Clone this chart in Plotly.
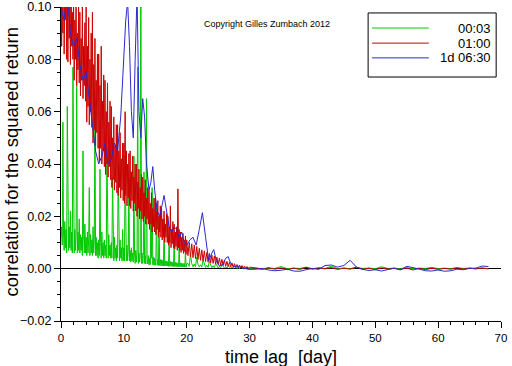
import plotly.graph_objects as go

# ---------------- data ----------------
# lag grid: 0.1-day sampling up to 20 days, 0.2-day sampling 20..30 days, daily afterwards
dense_lag = [round(0.1 * i, 1) for i in range(201)] + [round(20.2 + 0.2 * j, 1) for j in range(50)]
tail_lag = list(range(31, 69))

series_names = ["00:03", "01:00", "1d 06:30"]

green_dense = [
    # 0.0 - 0.9
    0.012, 0.016, 0.009, 0.056, 0.014, 0.007, 0.018, 0.008, 0.015, 0.006,
    0.062, 0.013, 0.007, 0.016, 0.008, 0.022, 0.007, 0.014, 0.006, 0.077,
    0.012, 0.006, 0.015, 0.007, 0.013, 0.070, 0.006, 0.014, 0.007, 0.019,
    0.006, 0.013, 0.007, 0.012, 0.005, 0.045, 0.013, 0.006, 0.017, 0.006,
    0.012, 0.005, 0.014, 0.006, 0.011, 0.031, 0.005, 0.013, 0.006, 0.011,
    0.005, 0.016, 0.006, 0.011, 0.065, 0.005, 0.012, 0.005, 0.010, 0.004,
    0.011, 0.005, 0.038, 0.010, 0.004, 0.014, 0.005, 0.010, 0.004, 0.011,
    0.005, 0.009, 0.004, 0.046, 0.010, 0.004, 0.013, 0.005, 0.009, 0.004,
    0.010, 0.004, 0.035, 0.009, 0.003, 0.012, 0.004, 0.008, 0.003, 0.009,
    0.004, 0.040, 0.008, 0.003, 0.011, 0.004, 0.008, 0.003, 0.015, 0.003,
    # 10.0 - 10.9
    0.008, 0.003, 0.043, 0.007, 0.003, 0.009, 0.003, 0.007, 0.034, 0.003,
    0.007, 0.0025, 0.008, 0.003, 0.006, 0.0025, 0.043, 0.006, 0.002, 0.007,
    0.0025, 0.006, 0.077, 0.002, 0.006, 0.0025, 0.005, 0.140, 0.002, 0.006,
    0.002, 0.005, 0.037, 0.002, 0.005, 0.0018, 0.065, 0.004, 0.0018, 0.005,
    0.0015, 0.004, 0.0015, 0.0214, 0.004, 0.031, 0.0015, 0.0045, 0.0013, 0.004,
    0.0013, 0.0038, 0.025, 0.0013, 0.0035, 0.0012, 0.020, 0.0012, 0.0035, 0.0011,
    0.0034, 0.0011, 0.0032, 0.001, 0.019, 0.001, 0.003, 0.001, 0.0028, 0.001,
    0.0028, 0.0009, 0.013, 0.0009, 0.0027, 0.0009, 0.0026, 0.0009, 0.0025, 0.0008,
    0.0115, 0.0008, 0.0024, 0.0008, 0.0023, 0.0008, 0.0022, 0.0008, 0.009, 0.0007,
    0.0022, 0.0007, 0.0021, 0.0007, 0.002, 0.0007, 0.002, 0.0006, 0.007, 0.0006,
    # 20.0
    0.0019,
    # 20.2 - 21.8 (0.2 step)
    0.002, 0.0009, 0.0055, 0.0019, 0.0008, 0.0018, 0.0007, 0.0045, 0.0016,
    # 22.0 - 30.0
    0.0007, 0.0015, 0.0006, 0.0035, 0.0014, 0.0005, 0.0013, 0.0005, 0.0028, 0.0012,
    0.0004, 0.0011, 0.0004, 0.002, 0.001, 0.0003, 0.0009, 0.0003, 0.0016, 0.0008,
    0.0002, 0.0008, 0.0002, 0.0012, 0.0007, 0.0001, 0.0006, 0.0001, 0.001, 0.0005,
    0.0001, 0.0005, 0.0, 0.0008, 0.0004, 0.0, 0.0004, 0.0, 0.0006, 0.0003,
    0.0,
]
green_tail = [
    0.0003, 0.0, 0.0002, 0.0001, 0.0008, 0.0, 0.0002, 0.0001, 0.0006, 0.0,
    0.0003, 0.0001, 0.0009, 0.0, 0.0002, 0.0, 0.0005, 0.0001, 0.0002, 0.0,
    0.0007, 0.0001, 0.0002, 0.0, 0.0004, 0.0, 0.0002, 0.0001, 0.0005, 0.0,
    0.0002, 0.0, 0.0004, 0.0001, 0.0002, 0.0, 0.0003, 0.0,
]

red_dense = [
    # 0.0 - 0.9
    0.125, 0.085, 0.112, 0.090, 0.130, 0.082, 0.105, 0.095, 0.118, 0.080,
    0.110, 0.079, 0.120, 0.088, 0.100, 0.078, 0.115, 0.085, 0.098, 0.080,
    0.105, 0.072, 0.095, 0.080, 0.102, 0.070, 0.090, 0.076, 0.100, 0.071,
    0.098, 0.066, 0.088, 0.072, 0.100, 0.065, 0.085, 0.070, 0.094, 0.064,
    0.100, 0.056, 0.085, 0.062, 0.096, 0.055, 0.080, 0.060, 0.090, 0.054,
    0.098, 0.048, 0.078, 0.053, 0.088, 0.047, 0.072, 0.052, 0.082, 0.046,
    0.082, 0.041, 0.070, 0.046, 0.085, 0.040, 0.064, 0.045, 0.074, 0.039,
    0.072, 0.036, 0.060, 0.040, 0.071, 0.035, 0.056, 0.039, 0.064, 0.034,
    0.062, 0.031, 0.050, 0.034, 0.058, 0.030, 0.047, 0.033, 0.055, 0.029,
    0.055, 0.028, 0.045, 0.031, 0.052, 0.027, 0.042, 0.030, 0.048, 0.026,
    # 10.0 - 10.9
    0.048, 0.025, 0.060, 0.028, 0.045, 0.024, 0.040, 0.027, 0.044, 0.024,
    0.045, 0.023, 0.037, 0.026, 0.043, 0.022, 0.035, 0.025, 0.040, 0.022,
    0.040, 0.020, 0.033, 0.023, 0.038, 0.019, 0.031, 0.022, 0.036, 0.019,
    0.035, 0.018, 0.029, 0.020, 0.034, 0.017, 0.027, 0.019, 0.031, 0.017,
    0.030, 0.015, 0.025, 0.017, 0.029, 0.014, 0.023, 0.016, 0.027, 0.014,
    0.027, 0.013, 0.022, 0.015, 0.026, 0.012, 0.020, 0.014, 0.024, 0.012,
    0.023, 0.011, 0.019, 0.012, 0.022, 0.010, 0.017, 0.012, 0.021, 0.010,
    0.020, 0.009, 0.016, 0.010, 0.024, 0.008, 0.015, 0.0095, 0.018, 0.008,
    0.017, 0.0075, 0.014, 0.0085, 0.016, 0.007, 0.0305, 0.008, 0.015, 0.007,
    0.014, 0.0062, 0.012, 0.007, 0.0135, 0.0058, 0.011, 0.0065, 0.0125, 0.0055,
    # 20.0
    0.011,
    # 20.2 - 21.8 (0.2 step)
    0.005, 0.010, 0.0046, 0.0095, 0.0042, 0.009, 0.0038, 0.0085, 0.0035,
    # 22.0 - 30.0
    0.0078, 0.0032, 0.0072, 0.003, 0.0068, 0.0027, 0.0062, 0.0025, 0.0058, 0.0022,
    0.0052, 0.002, 0.0048, 0.0018, 0.0044, 0.0016, 0.004, 0.0014, 0.0036, 0.0012,
    0.0032, 0.001, 0.0028, 0.0009, 0.0025, 0.0007, 0.0022, 0.0006, 0.0019, 0.0004,
    0.0016, 0.0003, 0.0014, 0.0002, 0.0012, 0.0001, 0.001, 0.0, 0.0008, -0.0001,
    0.0006,
]
red_tail = [
    0.0002, -0.0003, 0.0004, -0.0002, 0.0003, -0.0004, 0.0002, -0.0003, 0.0005, -0.0002,
    0.0003, -0.0001, 0.0004, -0.0003, 0.0002, -0.0002, 0.0006, -0.0003, 0.0002, -0.0004,
    0.0003, -0.0002, 0.0001, -0.0003, 0.0002, -0.0005, 0.0001, -0.0004, 0.0002, -0.0003,
    0.0001, -0.0002, 0.0003, -0.0002, 0.0002, -0.0001, 0.0002, -0.0001,
]

blue_lag = [
    0, 0.5, 1, 1.5, 2, 2.5, 3, 3.5, 4, 4.5, 5, 5.5, 6, 6.5, 7, 7.5, 8, 8.5, 9, 9.5,
    10, 10.3, 10.6, 10.9, 11.2, 11.5, 11.8, 12.1, 12.4, 12.7, 13.0, 13.3, 13.6,
    14.0, 14.3, 14.6, 14.9, 15.3, 15.7, 16.0, 16.4, 16.8, 17.2, 17.6, 18.0, 18.4,
    18.8, 19.2, 19.6, 20.0, 20.5, 21.0, 21.5, 22.0, 22.5, 23.0, 23.5, 24.0, 24.3,
    24.7, 25.2, 25.7, 26.2, 26.6, 27.0, 27.5, 28, 29, 30,
    31, 32, 33, 34, 35, 36, 37, 38, 39, 40, 41, 42, 43, 44, 45, 46, 47, 48, 49,
    50, 51, 52, 53, 54, 55, 56, 57, 58, 59, 60, 61, 62, 63, 64, 65, 66, 67, 68,
]
blue_val = [
    0.100, 0.095, 0.105, 0.090, 0.085, 0.088, 0.078, 0.072, 0.075, 0.066,
    0.055, 0.045, 0.040, 0.043, 0.048, 0.040, 0.042, 0.048, 0.045, 0.058,
    0.080, 0.095, 0.102, 0.085, 0.060, 0.050, 0.080, 0.105, 0.060, 0.050,
    0.065, 0.058, 0.040, 0.030, 0.033, 0.039, 0.030, 0.022, 0.020, 0.024,
    0.028, 0.022, 0.016, 0.014, 0.016, 0.015, 0.012, 0.014, 0.010, 0.009,
    0.011, 0.012, 0.009, 0.015, 0.0214, 0.012, 0.003, 0.006, 0.0073, 0.003,
    0.001, 0.0015, 0.004, 0.0046, 0.002, 0.0008, 0.001, 0.0002, -0.0003,
    -0.0002, 0.0001, -0.0005, -0.0008, -0.0006, -0.0002, -0.0009, -0.001, -0.0004, 0.0001,
    -0.0003, 0.0012, 0.0014, 0.0006, 0.0012, 0.0032, 0.0006, -0.0003, -0.0007, -0.0004,
    -0.0009, -0.0003, 0.0002, -0.0005, 0.0009, 0.0004, -0.0002, -0.0008, -0.0009, -0.0005,
    -0.001, -0.0008, -0.0002, -0.0004, 0.0001, 0.0002, 0.001, 0.0008,
]

x_ticks = [0, 10, 20, 30, 40, 50, 60, 70]
y_ticks = [-0.02, 0.0, 0.02, 0.04, 0.06, 0.08, 0.10]

colors = ["#00c800", "#cc0000", "#2a2acc"]

# ---------------- figure ----------------
FONT = "Liberation Sans, Arial, sans-serif"
fig = go.Figure()
fig.add_trace(go.Scatter(x=dense_lag + tail_lag, y=green_dense + green_tail,
                         mode="lines", name=series_names[0],
                         line=dict(color=colors[0], width=1)))
fig.add_trace(go.Scatter(x=dense_lag + tail_lag, y=red_dense + red_tail,
                         mode="lines", name=series_names[1],
                         line=dict(color=colors[1], width=1)))
fig.add_trace(go.Scatter(x=blue_lag, y=blue_val,
                         mode="lines", name=series_names[2],
                         line=dict(color=colors[2], width=1)))

fig.update_layout(
    width=512, height=366,
    margin=dict(l=61, r=11, t=7, b=45, autoexpand=False),
    paper_bgcolor="white", plot_bgcolor="white",
    showlegend=False,
    font=dict(family=FONT, color="black", size=12),
)
fig.update_xaxes(
    range=[0, 70], tickvals=x_ticks, ticks="outside", ticklen=6, tickcolor="black",
    showline=True, linecolor="black", linewidth=1, showgrid=False, zeroline=False,
    minor=dict(dtick=2, ticks="outside", ticklen=3, tickcolor="black", showgrid=False),
    tickfont=dict(size=11.5, family=FONT), automargin=False,
)
fig.update_yaxes(
    range=[-0.02, 0.10], tickvals=y_ticks, tickformat=".2f", ticks="outside", ticklen=6,
    tickcolor="black", showline=True, linecolor="black", linewidth=1, showgrid=False,
    zeroline=True, zerolinecolor="black", zerolinewidth=1,
    minor=dict(dtick=0.005, ticks="outside", ticklen=3, tickcolor="black", showgrid=False),
    tickfont=dict(size=12.5, family=FONT), automargin=False,
)

# axis titles placed as in the reference
fig.add_annotation(text="time lag \u00a0[day]", xref="paper", yref="paper",
                   x=0.5, y=-0.115, xanchor="center", yanchor="middle", showarrow=False,
                   font=dict(size=18, family=FONT))
fig.add_annotation(text="correlation for the squared return", xref="paper", yref="paper",
                   x=-0.1114, y=0.508, xanchor="center", yanchor="middle", showarrow=False,
                   textangle=-90, font=dict(size=18.5, family=FONT))

fig.add_annotation(text="Copyright Gilles Zumbach 2012", xref="paper", yref="paper",
                   x=0.468, y=0.968, showarrow=False, font=dict(size=9, family=FONT))

# legend box drawn as in the reference (lines left, labels right-aligned)
fig.add_shape(type="rect", xref="paper", yref="paper", x0=0.698, x1=0.989,
              y0=0.777, y1=0.981, line=dict(color="black", width=1), fillcolor="white")
leg_y = [0.933, 0.885, 0.838]
for name, col, yy in zip(series_names, colors, leg_y):
    fig.add_shape(type="line", xref="paper", yref="paper", x0=0.707, x1=0.836,
                  y0=yy, y1=yy, line=dict(color=col, width=1))
    fig.add_annotation(text=name, xref="paper", yref="paper", x=0.981, y=yy,
                       xanchor="right", yanchor="middle", showarrow=False,
                       font=dict(size=13, family=FONT))

fig.write_html("out.html",
               config={"displayModeBar": False},
               post_script="document.body.style.margin='0';document.body.style.padding='0';"
                           "document.body.style.overflow='hidden';")
